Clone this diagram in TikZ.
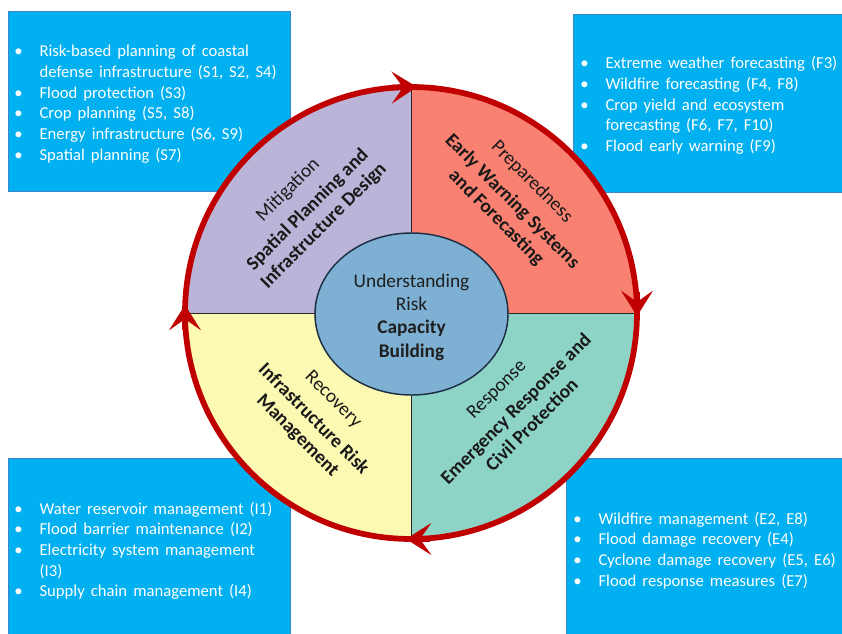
\documentclass[tikz,border=0pt]{standalone}
\usepackage{fontspec}
\setmainfont{Carlito}
\newfontfamily\listfont{Carlito}[WordSpace=1.6]
\usetikzlibrary{arrows.meta,shapes.geometric}
\definecolor{boxblue}{HTML}{00B0F0}
\definecolor{boxedge}{HTML}{3C86C8}
\definecolor{ringred}{HTML}{C00000}
\definecolor{mitigc}{HTML}{BAB5D8}
\definecolor{prepc}{HTML}{F98171}
\definecolor{respc}{HTML}{8DD4C6}
\definecolor{recovc}{HTML}{FCF9B2}
\definecolor{corec}{HTML}{7DB0D3}
\definecolor{coreedge}{HTML}{1E2F45}
\begin{document}
\begin{tikzpicture}[x=0.75pt,y=-0.75pt,
  infobox/.style={rectangle,fill=boxblue,draw=boxedge,line width=0.6pt,inner sep=0pt,outer sep=0pt,anchor=north west},
  listtext/.style={anchor=base west,inner sep=0pt,text=white,font=\listfont\fontsize{12.5}{15.5}\selectfont},
  qtext/.style={align=center,inner sep=0pt,text=black!90,font=\fontsize{14.5}{17}\selectfont},
  divider/.style={draw=black!85,line width=0.7pt},
  ringline/.style={draw=ringred,line width=4.3pt},
  ringarrow/.style={draw=ringred,line width=4.3pt,-{Stealth[length=19pt,width=24pt,inset=8.5pt,line width=0.5pt]}}
]
\useasboundingbox (0,0) rectangle (842,634);
\fill[white] (0,0) rectangle (842,634);

% info boxes
\node[infobox,minimum width=211.5pt,minimum height=135pt] (boxS) at (8,11) {};
\node[infobox,minimum width=202pt,minimum height=133.5pt] (boxF) at (573,14) {};
\node[infobox,minimum width=211.5pt,minimum height=132pt] (boxI) at (8,458) {};
\node[infobox,minimum width=207pt,minimum height=132pt] (boxE) at (566,458) {};

\node[listtext] (listS) at (14,57) {\begin{tabular}[t]{@{}p{19pt}@{}l@{}}
\textbullet & Risk-based planning of coastal\\
 & defense infrastructure (S1, S2, S4)\\
\textbullet & Flood protection (S3)\\
\textbullet & Crop planning (S5, S8)\\
\textbullet & Energy infrastructure (S6, S9)\\
\textbullet & Spatial planning (S7)
\end{tabular}};
\node[listtext] (listF) at (580,69) {\begin{tabular}[t]{@{}p{19pt}@{}l@{}}
\textbullet & Extreme weather forecasting (F3)\\
\textbullet & Wildfire forecasting (F4, F8)\\
\textbullet & Crop yield and ecosystem\\
 & forecasting (F6, F7, F10)\\
\textbullet & Flood early warning (F9)
\end{tabular}};
\node[listtext] (listI) at (14,514) {\begin{tabular}[t]{@{}p{19pt}@{}l@{}}
\textbullet & Water reservoir management (I1)\\
\textbullet & Flood barrier maintenance (I2)\\
\textbullet & Electricity system management\\
 & (I3)\\
\textbullet & Supply chain management (I4)
\end{tabular}};
\node[listtext] (listE) at (573,524) {\begin{tabular}[t]{@{}p{19pt}@{}l@{}}
\textbullet & Wildfire management (E2, E8)\\
\textbullet & Flood damage recovery (E4)\\
\textbullet & Cyclone damage recovery (E5, E6)\\
\textbullet & Flood response measures (E7)
\end{tabular}};

% cycle
\coordinate (c) at (411,313);
\begin{scope}
\clip (c) circle[radius=169.5pt];
\fill[mitigc] (180,80) rectangle (c);
\fill[prepc] (645,80) rectangle (c);
\fill[respc] (645,545) rectangle (c);
\fill[recovc] (180,545) rectangle (c);
\end{scope}
\coordinate (ntop) at (411,87);
\coordinate (nbot) at (411,539);
\coordinate (nleft) at (185,313);
\coordinate (nright) at (637,313);
\draw[divider] (ntop) -- (nbot);
\draw[divider] (nleft) -- (nright);

\node[ellipse,fill=corec,draw=coreedge,line width=1.1pt,minimum width=144.75pt,minimum height=121.5pt,inner sep=0pt] (core) at (411.5,314) {};
\node[align=center,inner sep=0pt,text=black!88,font=\fontsize{14.5}{17.5}\selectfont] (coreT) at (411.5,317)
  {Understanding\\Risk\\\textbf{Capacity}\\\textbf{Building}};

\node[qtext,rotate=45] (mitT) at (306,208) {Mitigation\\[4pt]\textbf{Spatial Planning and}\\\textbf{Infrastructure Design}};
\node[qtext,rotate=-45] (prepT) at (514,200) {Preparedness\\[4pt]\textbf{Early Warning Systems}\\\textbf{and Forecasting}};
\node[qtext,rotate=45] (respT) at (514,407) {Response\\[4pt]\textbf{Emergency Response and}\\\textbf{Civil Protection}};
\node[qtext,rotate=-45] (recT) at (315,418) {Recovery\\[4pt]\textbf{Infrastructure Risk}\\\textbf{Management}};

\draw[ringline] (c) circle[radius=169.5pt];
\coordinate (a1) at (392,87.5);
\coordinate (a1t) at (417,87);
\coordinate (a2) at (637,292);
\coordinate (a2t) at (637,316);
\coordinate (a3) at (430,539);
\coordinate (a3t) at (406,539);
\coordinate (a4) at (185,330);
\coordinate (a4t) at (185,305);
\draw[ringarrow] (a1) -- (a1t);
\draw[ringarrow] (a2) -- (a2t);
\draw[ringarrow] (a3) -- (a3t);
\draw[ringarrow] (a4) -- (a4t);
\end{tikzpicture}
\end{document}
